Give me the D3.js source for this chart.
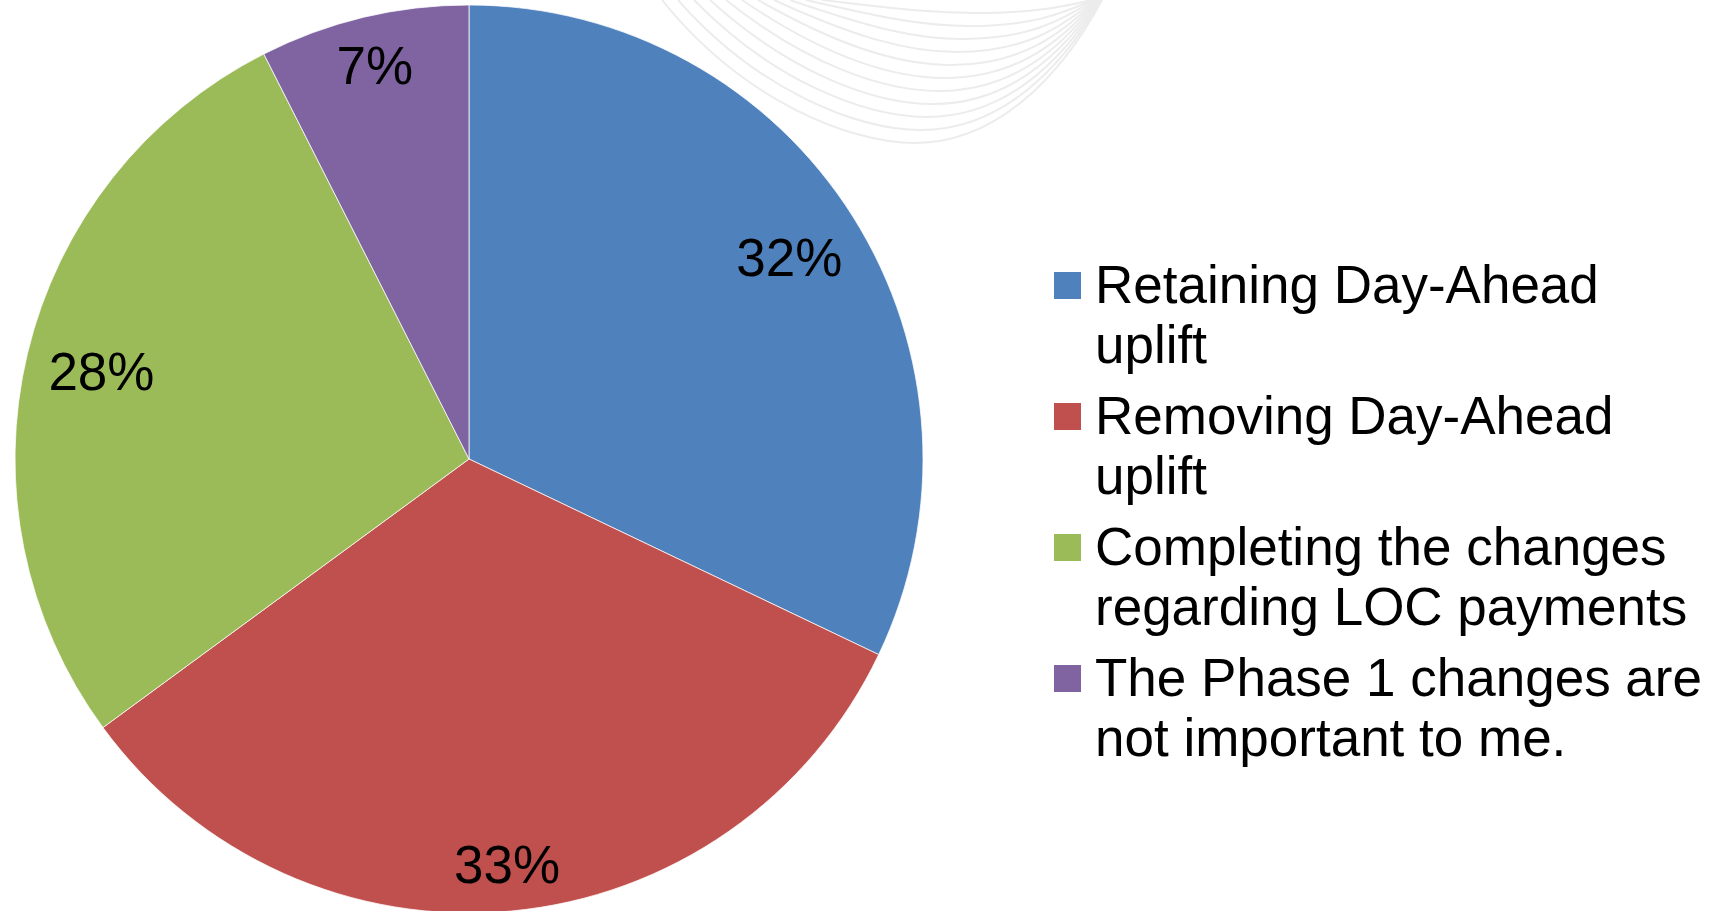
<!DOCTYPE html>
<html>
<head>
<meta charset="utf-8">
<script src="https://cdn.jsdelivr.net/npm/d3@7"></script>
<style>
  html, body { margin: 0; padding: 0; background: #fff; }
  svg text { font-family: "Liberation Sans", Arial, sans-serif; fill: #000; }
</style>
</head>
<body>
<div id="chart"></div>
<script>
// survey answers (counts)
const categories = [
  'Retaining Day-Ahead uplift',
  'Removing Day-Ahead uplift',
  'Completing the changes regarding LOC payments',
  'The Phase 1 changes are not important to me.'
]
const counts = [43, 44, 37, 10]
const colors = ['#4F81BD', '#C0504D', '#9BBB59', '#8064A2']

const W = 1714, H = 911
const fontSize = 53

const svg = d3.select('#chart')
  .append('svg')
    .attr('width', W)
    .attr('height', H)

svg.append('rect')
  .attr('width', W)
  .attr('height', H)
  .attr('fill', '#fff')

// faint swoosh from the slide background
const swoosh = svg.append('g').attr('class', 'swoosh')
for (let i = 0; i < 11; i++) {
  const x0 = 662 + i * 16, bottom = 143 - i * 13, x1 = 1102 - i
  const p = d3.path()
  p.moveTo(x0, 0)
  p.bezierCurveTo(x0 + 80, bottom * 0.7, 850 + i * 8, bottom, 915 + i * 6, bottom)
  p.bezierCurveTo(995 + i * 4, bottom, 1060, bottom * 0.55, x1, 0)
  swoosh.append('path')
    .attr('d', p.toString())
    .attr('fill', 'none')
    .attr('stroke', '#ececec')
    .attr('stroke-width', 2)
}

// pie
const cx = 469, cy = 459, radius = 454
const total = d3.sum(counts)

const pie = d3.pie()
  .sort(null)
  .value(d => d)

const arc = d3.arc()
  .innerRadius(0)
  .outerRadius(radius)

const arcs = pie(counts)

const g = svg.append('g')
  .attr('transform', `translate(${cx},${cy})`)

g.selectAll('path.slice')
  .data(arcs)
  .join('path')
    .attr('class', 'slice')
    .attr('d', arc)
    .attr('fill', (d, i) => colors[i])
    .attr('stroke', '#fff')
    .attr('stroke-width', 0.75)

// percentage labels, pushed out towards the rim (inside end)
const labels = g.selectAll('text.pct')
  .data(arcs)
  .join('text')
    .attr('class', 'pct')
    .attr('text-anchor', 'middle')
    .style('font-size', fontSize + 'px')
    .text(d => Math.round(d.value / total * 100) + '%')

const pad = 20
labels.each(function(d) {
  const w = this.getComputedTextLength() / 2
  const h = fontSize * 0.36
  const a = (d.startAngle + d.endAngle) / 2
  const ux = Math.sin(a), uy = -Math.cos(a)
  const far = dist => {
    let m = 0
    ;[[-w, -h], [w, -h], [-w, h], [w, h]].forEach(c => {
      m = Math.max(m, Math.hypot(ux * dist + c[0], uy * dist + c[1]))
    })
    return m
  }
  let lo = 0, hi = radius
  for (let k = 0; k < 40; k++) {
    const mid = (lo + hi) / 2
    if (far(mid) < radius - pad) lo = mid
    else hi = mid
  }
  d3.select(this)
    .attr('x', ux * lo)
    .attr('y', uy * lo + h)
})

// legend
const legendX = 1054, legendY = 303, sw = 27
const lineH = 60, itemGap = 71, maxW = 625

const legend = svg.append('g').attr('class', 'legend')
let y = legendY
categories.forEach((name, i) => {
  const item = legend.append('g')
  item.append('rect')
    .attr('x', legendX)
    .attr('y', y - 31)
    .attr('width', sw)
    .attr('height', sw)
    .attr('fill', colors[i])

  const text = item.append('text')
    .attr('x', legendX + 41)
    .attr('y', y)
    .style('font-size', fontSize + 'px')

  // wrap words into lines
  const words = name.split(' ')
  let line = [], tspan = text.append('tspan').attr('x', legendX + 41).attr('y', y)
  let n = 1
  words.forEach(wd => {
    line.push(wd)
    tspan.text(line.join(' '))
    if (tspan.node().getComputedTextLength() > maxW && line.length > 1) {
      line.pop()
      tspan.text(line.join(' '))
      line = [wd]
      tspan = text.append('tspan')
        .attr('x', legendX + 41)
        .attr('y', y + n * lineH)
        .text(wd)
      n++
    }
  })
  y += (n - 1) * lineH + itemGap
})
</script>
</body>
</html>
